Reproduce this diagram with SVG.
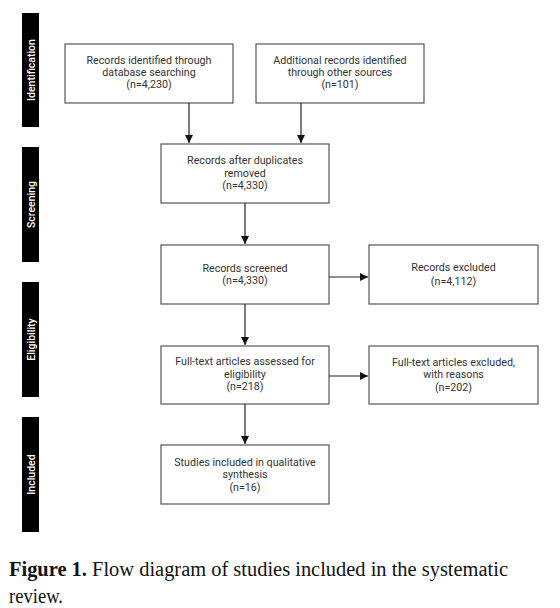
<svg xmlns="http://www.w3.org/2000/svg" width="560" height="608" viewBox="0 0 560 608">
<style>
.box{fill:#fff;stroke:#555;stroke-width:1.2}
.t{font-family:Roboto,"Liberation Sans",sans-serif;font-size:10.7px;fill:#333;text-anchor:middle}
.bar{fill:#000}
.bt{font-family:Roboto,"Liberation Sans",sans-serif;font-size:10.5px;font-weight:500;fill:#fff;text-anchor:middle}
.ln{stroke:#222;stroke-width:1.2;fill:none}
.cap{font-family:"Liberation Serif",serif;font-size:20px;fill:#111}
</style>
<defs>
<marker id="ah" viewBox="0 0 10 10" refX="10" refY="5" markerWidth="8" markerHeight="8" markerUnits="userSpaceOnUse" orient="auto">
<path d="M0,0 L10,5 L0,10 z" fill="#111"/>
</marker>
</defs>
<rect width="560" height="608" fill="#fff"/>
<g id="phase-identification"><rect class="bar" x="22" y="13" width="17" height="114"/><text class="bt" transform="translate(34.5,70) rotate(-90)">Identification</text></g>
<g id="phase-screening"><rect class="bar" x="22" y="147" width="17" height="115"/><text class="bt" transform="translate(34.5,204.5) rotate(-90)">Screening</text></g>
<g id="phase-eligibility"><rect class="bar" x="22" y="282" width="17" height="115"/><text class="bt" transform="translate(34.5,339.5) rotate(-90)">Eligibility</text></g>
<g id="phase-included"><rect class="bar" x="22" y="417" width="17" height="115"/><text class="bt" transform="translate(34.5,474.5) rotate(-90)">Included</text></g>
<g id="n1"><rect class="box" x="65" y="44" width="168" height="59"/><text class="t" x="149" y="64">Records identified through</text><text class="t" x="149" y="76">database searching</text><text class="t" x="149" y="88">(n=4,230)</text></g>
<g id="n2"><rect class="box" x="256" y="44" width="168" height="59"/><text class="t" x="340" y="64">Additional records identified</text><text class="t" x="340" y="76">through other sources</text><text class="t" x="340" y="88">(n=101)</text></g>
<g id="n3"><rect class="box" x="161" y="144" width="168" height="59"/><text class="t" x="245" y="164">Records after duplicates</text><text class="t" x="245" y="177">removed</text><text class="t" x="245" y="189">(n=4,330)</text></g>
<g id="n4"><rect class="box" x="161" y="245" width="168" height="59"/><text class="t" x="245" y="272">Records screened</text><text class="t" x="245" y="284">(n=4,330)</text></g>
<g id="n5"><rect class="box" x="369" y="245" width="169" height="59"/><text class="t" x="453.5" y="271">Records excluded</text><text class="t" x="453.5" y="285">(n=4,112)</text></g>
<g id="n6"><rect class="box" x="161" y="346" width="168" height="58"/><text class="t" x="245" y="365">Full-text articles assessed for</text><text class="t" x="245" y="378">eligibility</text><text class="t" x="245" y="390">(n=218)</text></g>
<g id="n7"><rect class="box" x="369" y="346" width="169" height="58"/><text class="t" x="453.5" y="366">Full-text articles excluded,</text><text class="t" x="453.5" y="378">with reasons</text><text class="t" x="453.5" y="391">(n=202)</text></g>
<g id="n8"><rect class="box" x="161" y="445" width="168" height="59"/><text class="t" x="245" y="466">Studies included in qualitative</text><text class="t" x="245" y="478">synthesis</text><text class="t" x="245" y="491">(n=16)</text></g>
<g id="connectors">
<line class="ln" x1="189" y1="103" x2="189" y2="143" marker-end="url(#ah)"/>
<line class="ln" x1="301" y1="103" x2="301" y2="143" marker-end="url(#ah)"/>
<line class="ln" x1="245" y1="203" x2="245" y2="244" marker-end="url(#ah)"/>
<line class="ln" x1="245" y1="304" x2="245" y2="345" marker-end="url(#ah)"/>
<line class="ln" x1="245" y1="404" x2="245" y2="444" marker-end="url(#ah)"/>
<line class="ln" x1="329" y1="277" x2="368" y2="277" marker-end="url(#ah)"/>
<line class="ln" x1="329" y1="376" x2="368" y2="376" marker-end="url(#ah)"/>
</g>
<text class="cap" x="9" y="576" textLength="499" lengthAdjust="spacingAndGlyphs"><tspan font-weight="bold">Figure 1.</tspan> Flow diagram of studies included in the systematic</text>
<text class="cap" x="9" y="603" textLength="54" lengthAdjust="spacingAndGlyphs">review.</text>
</svg>
